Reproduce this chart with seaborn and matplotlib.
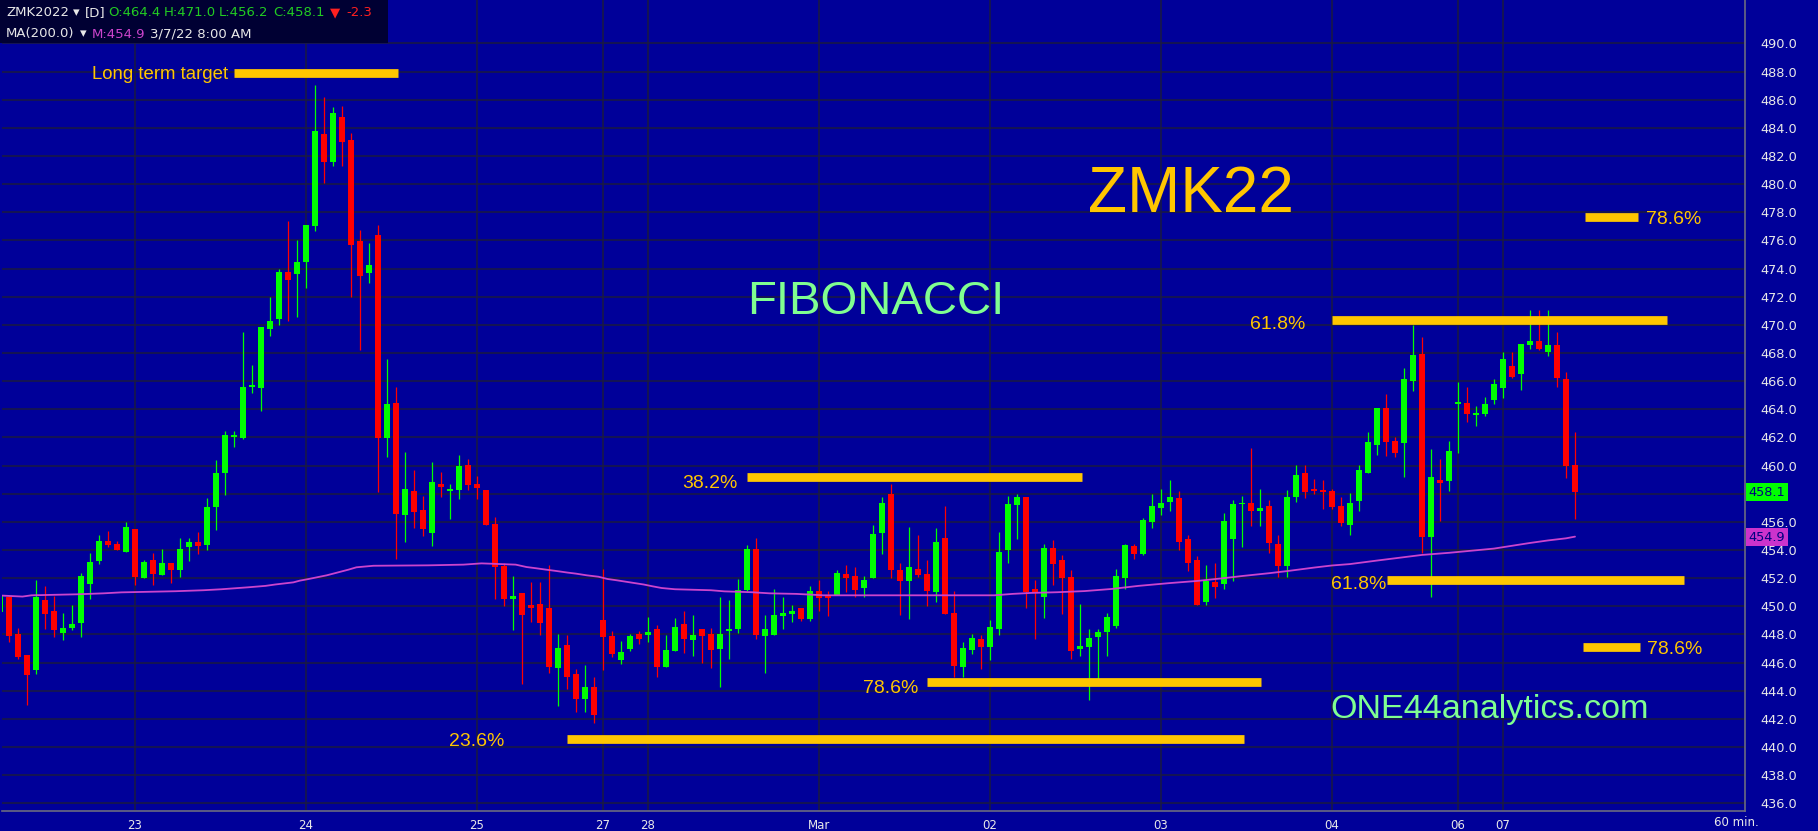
import numpy as np
import pandas as pd
import matplotlib
matplotlib.use('Agg')
import matplotlib.pyplot as plt
import matplotlib.transforms as mtransforms
from matplotlib.patches import Rectangle
import seaborn as sns

# ── colours ────────────────────────────────────────────────
BG      = '#000099'
GRID    = '#1b1b40'
UP      = '#00FF00'
DOWN    = '#FF0000'
MA_COL  = '#CC44CC'
FIB_COL = '#FFC600'
MINT    = '#80FF90'
TXT     = '#E8E8E8'

# ── hourly bars (ZMK22, 60 min) ────────────────────────────
bar_open = [
    449.60, 450.66, 448.03, 446.54, 445.47, 450.45, 449.67, 448.10, 448.48, 448.81,
    451.59, 453.22, 454.64, 454.43, 453.86, 455.50, 452.01, 453.29, 452.23, 453.08,
    452.58, 454.22, 454.57, 454.36, 457.06, 459.48, 462.05, 461.96, 465.60, 465.52,
    469.71, 470.42, 473.76, 473.62, 474.47, 477.05, 483.57, 481.60, 484.78, 483.12,
    475.96, 473.71, 476.39, 461.99, 464.45, 456.51, 458.20, 456.85, 455.23, 458.69,
    458.20, 458.27, 460.04, 458.69, 458.27, 455.85, 452.87, 450.52, 450.95, 450.09,
    450.16, 449.88, 445.62, 447.25, 445.19, 443.41, 444.27, 449.03, 447.89, 446.18,
    446.97, 448.03, 447.96, 448.39, 445.69, 446.83, 448.74, 447.61, 448.39, 448.03,
    446.97, 448.22, 448.41, 451.16, 454.07, 447.91, 447.96, 449.34, 449.48, 449.88,
    449.12, 451.08, 450.78, 450.80, 452.29, 452.15, 451.30, 452.01, 455.21, 457.98,
    452.58, 451.80, 452.65, 452.29, 451.01, 454.85, 449.52, 445.69, 446.90, 447.68,
    447.11, 448.39, 454.00, 457.20, 457.77, 451.22, 450.66, 454.14, 453.29, 452.08,
    446.99, 447.13, 447.84, 448.17, 448.63, 452.04, 454.29, 453.71, 455.99, 457.01,
    457.43, 457.70, 454.78, 453.29, 450.33, 451.75, 451.61, 454.78, 457.25, 457.36,
    456.77, 457.13, 454.43, 452.86, 457.74, 459.47, 458.34, 458.27, 458.19, 457.13,
    455.78, 457.48, 459.49, 461.46, 464.10, 461.75, 461.63, 466.04, 467.93, 454.95,
    458.98, 458.93, 464.40, 464.42, 463.62, 463.65, 464.66, 465.51, 467.08, 466.51,
    468.60, 468.86, 468.08, 468.57, 466.16, 460.05,
]
bar_high = [
    450.80, 450.70, 448.44, 446.54, 451.87, 451.44, 450.76, 449.53, 450.09, 452.37,
    453.79, 455.07, 455.35, 454.64, 455.99, 455.50, 453.29, 453.79, 454.07, 453.08,
    454.86, 454.86, 455.28, 457.70, 460.40, 462.46, 462.46, 469.50, 467.15, 469.85,
    471.98, 473.98, 477.39, 476.04, 477.10, 487.05, 486.20, 485.49, 485.56, 483.65,
    476.75, 475.80, 477.10, 467.58, 465.59, 460.97, 459.69, 457.86, 460.26, 459.55,
    458.69, 460.76, 460.47, 459.26, 458.27, 456.35, 453.08, 452.15, 450.95, 451.73,
    451.73, 452.94, 448.03, 447.96, 445.54, 445.83, 444.98, 452.65, 448.25, 447.54,
    448.03, 448.25, 449.24, 448.67, 447.96, 449.17, 449.67, 449.38, 448.39, 448.46,
    450.69, 450.45, 451.94, 454.36, 454.85, 449.38, 451.22, 450.66, 450.10, 449.88,
    451.44, 451.87, 451.08, 452.58, 452.94, 452.79, 452.15, 455.78, 457.77, 458.69,
    453.08, 455.64, 455.07, 453.29, 455.57, 457.13, 451.08, 447.47, 448.03, 447.96,
    449.03, 455.28, 457.84, 457.98, 457.77, 451.87, 454.42, 454.71, 453.64, 452.58,
    450.16, 448.38, 448.38, 449.50, 452.68, 454.45, 454.42, 456.25, 457.98, 458.34,
    458.98, 458.19, 455.07, 453.57, 452.94, 453.05, 456.61, 457.56, 457.84, 461.25,
    458.34, 457.56, 455.05, 458.27, 460.04, 460.04, 459.05, 458.99, 458.34, 457.77,
    458.07, 460.04, 462.39, 464.12, 465.09, 462.06, 466.94, 470.02, 469.14, 461.18,
    460.47, 461.75, 465.94, 465.56, 464.23, 464.86, 466.16, 468.08, 468.08, 468.64,
    471.06, 471.06, 471.06, 469.49, 466.65, 462.39,
]
bar_low = [
    449.60, 447.49, 446.23, 442.99, 445.19, 448.39, 447.82, 447.61, 448.32, 447.82,
    450.52, 453.01, 454.22, 454.00, 453.86, 451.52, 452.00, 451.52, 452.23, 451.65,
    452.08, 453.22, 453.72, 454.00, 455.42, 457.91, 461.32, 461.89, 465.16, 463.88,
    469.21, 470.00, 470.28, 470.56, 472.62, 476.70, 480.11, 481.32, 481.32, 472.01,
    468.24, 473.01, 458.15, 460.64, 453.36, 454.60, 455.59, 455.02, 454.31, 457.79,
    456.21, 457.63, 458.27, 457.63, 455.78, 450.52, 450.02, 448.32, 444.48, 448.89,
    447.96, 445.26, 442.92, 444.12, 442.49, 442.49, 441.71, 445.47, 446.40, 445.90,
    446.82, 447.32, 447.47, 445.00, 445.69, 446.83, 446.68, 446.47, 445.97, 445.62,
    444.29, 446.25, 448.10, 451.08, 447.68, 445.28, 447.96, 448.38, 448.89, 448.98,
    448.98, 449.67, 449.34, 450.80, 451.01, 450.66, 450.66, 452.01, 453.71, 452.01,
    449.38, 449.10, 452.08, 450.02, 450.31, 449.48, 444.98, 444.98, 446.61, 445.54,
    446.18, 447.96, 453.08, 454.78, 449.88, 447.68, 449.17, 451.51, 449.45, 446.25,
    446.47, 443.34, 444.53, 446.47, 448.44, 451.26, 453.36, 453.64, 455.57, 456.49,
    456.77, 454.03, 452.53, 450.11, 450.11, 450.57, 451.20, 451.82, 454.24, 455.72,
    455.72, 453.76, 452.10, 452.10, 457.44, 457.70, 457.98, 456.94, 456.94, 455.72,
    455.07, 456.79, 459.49, 460.75, 460.71, 460.64, 459.21, 465.33, 453.77, 450.69,
    456.09, 458.19, 460.92, 463.12, 462.81, 463.53, 464.36, 464.80, 466.23, 465.38,
    468.29, 468.22, 467.79, 465.59, 459.14, 456.21,
]
bar_close = [
    450.70, 447.91, 446.42, 445.12, 450.66, 449.45, 448.32, 448.46, 448.74, 452.15,
    453.15, 454.64, 454.36, 454.00, 455.64, 452.08, 453.15, 452.30, 453.08, 452.58,
    454.07, 454.57, 454.29, 457.06, 459.48, 462.18, 462.15, 465.59, 465.66, 469.85,
    470.28, 473.76, 473.19, 474.47, 477.10, 483.78, 481.60, 485.06, 483.03, 475.70,
    473.50, 474.26, 461.99, 464.38, 456.59, 458.34, 456.73, 455.52, 458.84, 458.50,
    458.34, 459.97, 458.62, 458.41, 455.78, 452.79, 450.52, 450.73, 449.38, 449.88,
    448.81, 445.69, 447.04, 444.98, 443.41, 444.27, 442.28, 447.82, 446.61, 446.75,
    447.89, 447.68, 448.17, 445.69, 446.90, 448.53, 447.68, 447.96, 447.89, 446.90,
    448.03, 448.36, 451.16, 454.07, 447.96, 448.38, 449.38, 449.55, 449.69, 449.12,
    451.08, 450.61, 450.61, 452.36, 452.03, 451.16, 451.87, 455.14, 457.34, 452.58,
    451.80, 452.79, 452.23, 451.08, 454.57, 449.48, 445.78, 447.04, 447.75, 447.11,
    448.53, 453.86, 457.27, 457.77, 451.01, 450.94, 454.14, 453.00, 452.03, 446.82,
    447.18, 447.77, 448.17, 449.22, 452.15, 454.36, 453.71, 456.13, 457.13, 457.36,
    457.74, 454.59, 453.08, 450.11, 451.82, 451.40, 456.06, 457.27, 457.29, 456.77,
    456.96, 454.50, 452.86, 457.74, 459.33, 458.15, 458.22, 458.15, 457.08, 455.94,
    457.36, 459.69, 461.67, 464.12, 461.70, 460.92, 466.16, 467.86, 454.95, 459.17,
    458.78, 461.04, 464.45, 463.67, 463.65, 464.36, 465.80, 467.58, 466.30, 468.64,
    468.86, 468.29, 468.57, 466.23, 460.00, 458.15,
]

# 200 period moving average at these bar positions
ma_bar = [0.2, 2.5, 3.5, 8.5, 11.5, 13.5, 19.5, 22.6, 24.6, 27.6, 29.5, 30.6, 32.6, 33.3,
          34.3, 36.3, 37.2, 38.7, 39.6, 41.5, 47.6, 51.5, 53.5, 57.3, 58.5, 59.6, 60.6,
          61.8, 63.0, 64.0, 65.2, 66.5, 67.5, 68.5, 69.5, 70.5, 71.5, 72.5, 73.5, 75.0,
          79.0, 80.5, 83.5, 85.5, 88.5, 91.5, 110.5, 112.5, 114.6, 117.5, 120.5, 123.5,
          126.5, 130, 133, 136, 138, 141, 143, 146, 148, 150, 153, 155.5, 158, 161, 163,
          166, 168, 170, 172, 174, 175]
ma_val = [450.76, 450.69, 450.78, 450.85, 450.92, 450.99, 451.07, 451.14, 451.21, 451.35,
          451.45, 451.55, 451.70, 451.82, 451.94, 452.20, 452.35, 452.60, 452.77, 452.88,
          452.91, 452.96, 453.05, 452.96, 452.79, 452.70, 452.61, 452.51, 452.40, 452.32,
          452.20, 452.10, 451.94, 451.85, 451.75, 451.65, 451.55, 451.42, 451.30, 451.21,
          451.14, 451.06, 451.00, 450.92, 450.88, 450.78, 450.78, 450.88, 450.95, 451.00,
          451.08, 451.23, 451.45, 451.65, 451.80, 452.00, 452.15, 452.35, 452.50, 452.75,
          452.90, 453.00, 453.25, 453.45, 453.65, 453.80, 453.92, 454.10, 454.30, 454.50,
          454.68, 454.83, 454.95]

# day separators on the time axis
day_bar   = [15, 34, 53, 67, 72, 91, 110, 129, 148, 162, 167]
day_label = ['23', '24', '25', '27', '28', 'Mar', '02', '03', '04', '06', '07']

# price grid / right axis labels (458.0 sits under the last-price tag)
price_ticks = np.arange(436, 491, 2)
price_labels = ['' if v == 458 else f'{v:.1f}' for v in price_ticks]

# fibonacci / target levels drawn by hand on the chart
fib_price = [487.90, 459.16, 444.64, 440.58, 470.33, 451.89, 447.11, 477.68]
fib_start = [26.0, 83.0, 103.0, 63.0, 148.0, 154.1, 175.9, 176.1]
fib_end   = [44.2, 120.2, 140.1, 138.2, 185.2, 187.1, 182.2, 182.0]
fib_text  = ['Long term target', '38.2%', '78.6%', '23.6%', '61.8%', '61.8%', '78.6%', '78.6%']
fib_text_x = [25.4, 82.0, 102.0, 56.0, 145.0, 154.0, 183.0, 182.9]
fib_text_y = [487.51, 458.41, 443.84, 440.09, 469.71, 451.23, 446.61, 477.14]
fib_text_ha = ['right', 'right', 'right', 'right', 'right', 'right', 'left', 'left']

last_close = 458.1
last_ma    = 454.9

df = pd.DataFrame({'bar': np.arange(len(bar_open)), 'open': bar_open,
                   'high': bar_high, 'low': bar_low, 'close': bar_close})
df['col'] = np.where(df['close'] >= df['open'], UP, DOWN)

# ── figure ─────────────────────────────────────────────────
sns.set_theme(style='darkgrid', rc={'axes.facecolor': BG, 'figure.facecolor': BG,
                                    'grid.color': GRID, 'grid.linewidth': 1.1})
plt.rcParams['font.family'] = ['DejaVu Sans']

W, H = 1818, 831
fig = plt.figure(figsize=(W / 100, H / 100), dpi=100)
ax = fig.add_axes([2 / W, 20 / H, 1743 / W, 811 / H])
ax.set_facecolor(BG)

# candles
ax.vlines(df['bar'], df['low'], df['high'], colors=df['col'], lw=0.9, zorder=3)
body = (df['close'] - df['open']).abs().clip(lower=0.12)
ax.bar(df['bar'], body, bottom=np.minimum(df['open'], df['close']), width=0.67,
       color=df['col'], linewidth=0, zorder=4)

# moving average
sns.lineplot(x=ma_bar, y=ma_val, ax=ax, color=MA_COL, lw=1.3, zorder=5,
             estimator=None, sort=False)

# fib levels
ax.hlines(fib_price, fib_start, fib_end, colors=FIB_COL, lw=6.3, zorder=6,
          capstyle='butt')
for t, x, y, ha in zip(fib_text, fib_text_x, fib_text_y, fib_text_ha):
    ax.text(x, y, t, ha=ha, va='baseline', color=FIB_COL, fontsize=14 if '%' in t else 13.4,
            family=['Liberation Sans', 'DejaVu Sans'], zorder=7)

# axes limits / ticks
ax.set_xlim(2 / 9, 1745 / 9)
ax.set_ylim(435.45, 493.09)
ax.set_yticks(price_ticks)
ax.set_yticklabels(price_labels)
ax.yaxis.tick_right()
ax.set_xticks(day_bar)
ax.set_xticklabels(day_label)
ax.tick_params(axis='both', length=0, labelcolor=TXT)
ax.tick_params(axis='y', pad=11, labelsize=9.3)
ax.tick_params(axis='x', pad=6, labelsize=8.5)
ax.set_xlabel(''); ax.set_ylabel('')
for side in ['top', 'left']:
    ax.spines[side].set_visible(False)
for side in ['right', 'bottom']:
    ax.spines[side].set_visible(True)
    ax.spines[side].set_color('#6a6a80')
    ax.spines[side].set_linewidth(1.2)

# price tags on right axis
tag = mtransforms.blended_transform_factory(ax.transAxes, ax.transData)
ax.text(1.002, last_close, f'{last_close:.1f}', transform=tag, ha='left', va='center',
        fontsize=9.3, color='#000080', zorder=10, clip_on=False,
        bbox=dict(facecolor='#00FF00', edgecolor='none', pad=1.8))
ax.text(1.002, last_ma, f'{last_ma:.1f}', transform=tag, ha='left', va='center',
        fontsize=9.3, color='#000080', zorder=10, clip_on=False,
        bbox=dict(facecolor='#CC33CC', edgecolor='none', pad=1.8))

fx = lambda px: px / W
fy = lambda py: 1 - py / H

# big labels
fig.text(fx(1191.5), fy(212), 'ZMK22', ha='center', va='baseline', fontsize=46,
         color=FIB_COL, family=['Liberation Sans', 'DejaVu Sans'])
fig.text(fx(876), fy(314), 'FIBONACCI', ha='center', va='baseline', fontsize=34,
         color=MINT, family=['Liberation Sans', 'DejaVu Sans'])
fig.text(fx(1490), fy(718), 'ONE44analytics.com', ha='center', va='baseline', fontsize=24.6,
         color=MINT, family=['Liberation Sans', 'DejaVu Sans'])
fig.text(fx(1714), fy(822), '60 min.', ha='left', va='center', fontsize=8.5, color=TXT)

# header box
fig.patches.append(Rectangle((0, fy(43)), fx(388), 43 / H, transform=fig.transFigure,
                             facecolor='#000033', edgecolor='none', zorder=8))
hdr1 = [('ZMK2022', 6, TXT), ('\u25BE', 73, TXT), ('[D]', 85, TXT),
        ('O:464.4', 108, '#22CC22'), ('H:471.0', 164, '#22CC22'),
        ('L:456.2', 219, '#22CC22'), ('C:458.1', 273, '#22CC22'),
        ('\u25BC', 330, '#FF2020'), ('-2.3', 346, '#FF2020')]
hdr2 = [('MA(200.0)', 6, TXT), ('\u25BE', 80, TXT), ('M:454.9', 92, MA_COL),
        ('3/7/22 8:00 AM', 150, TXT)]
for t, x, c in hdr1:
    fig.text(fx(x), fy(13), t, ha='left', va='center', fontsize=9.5, color=c, zorder=9)
for t, x, c in hdr2:
    fig.text(fx(x), fy(34), t, ha='left', va='center', fontsize=9.5, color=c, zorder=9)

fig.savefig('out.png', dpi=100, facecolor=BG)
plt.close(fig)
